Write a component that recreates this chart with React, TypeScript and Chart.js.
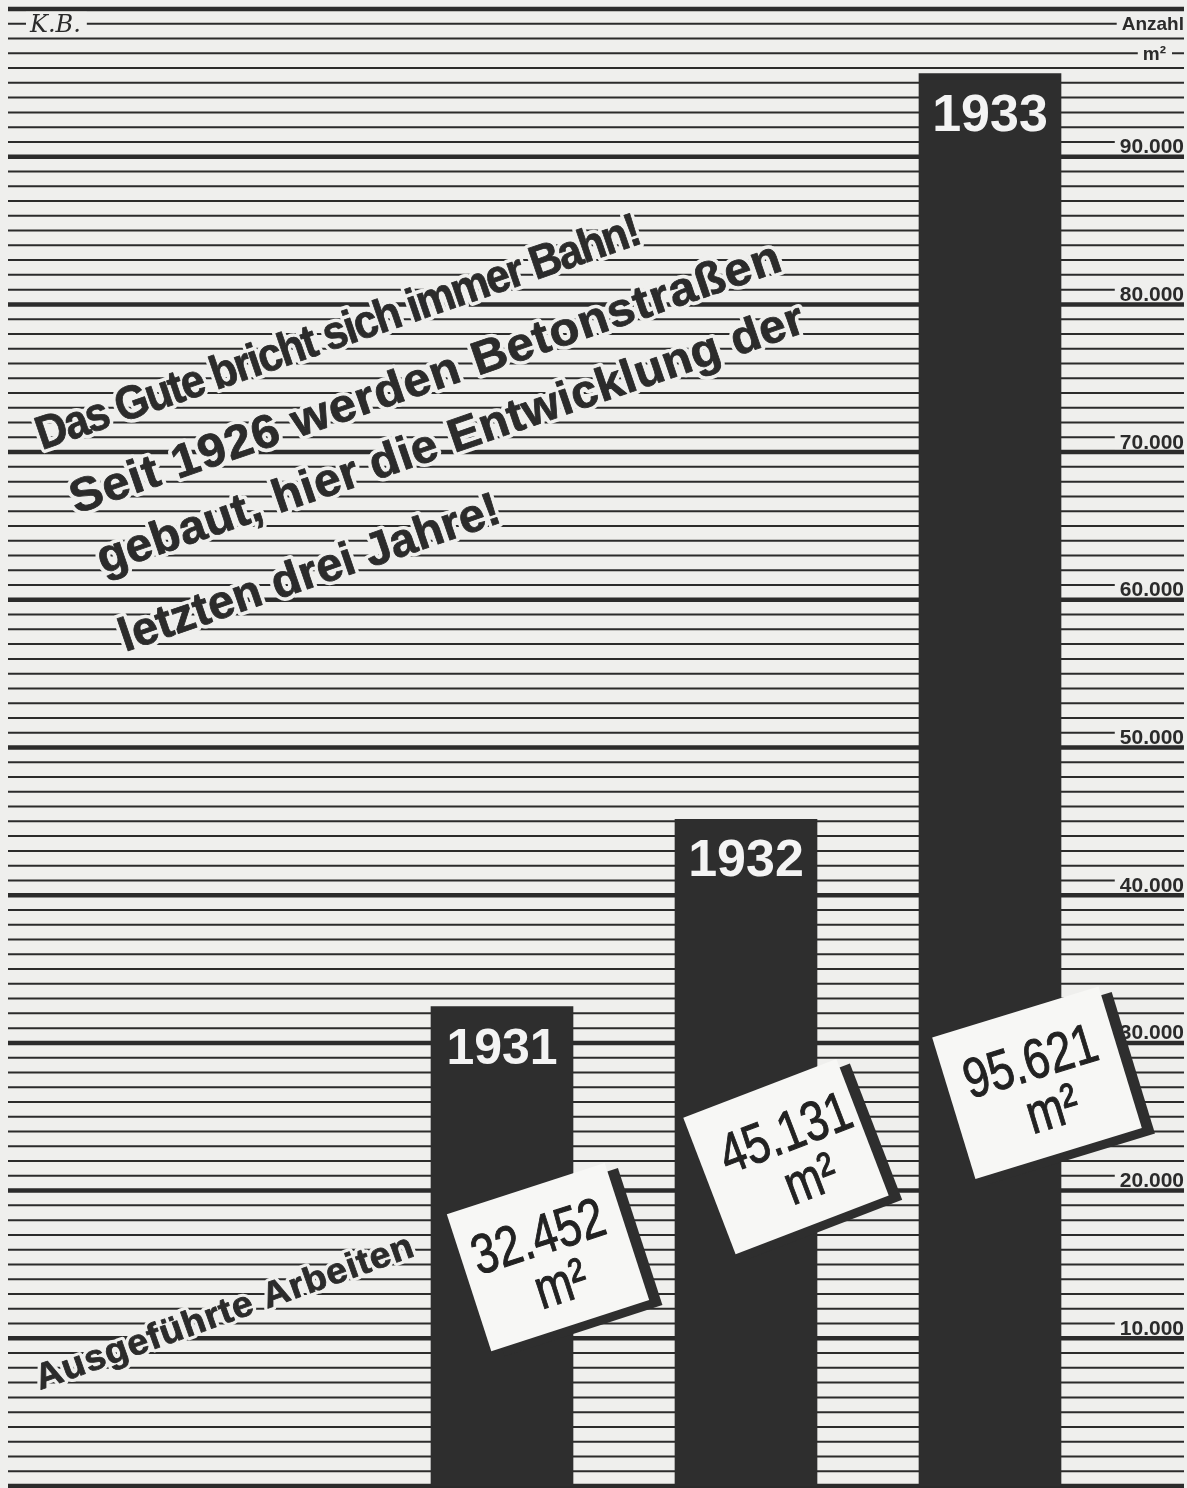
import React, { useEffect, useRef } from "react";
import { Chart, registerables } from "chart.js";

Chart.register(...registerables);

// ---------- data ----------
const YEARS: string[] = ["1931", "1932", "1933"];
const AREA_M2: number[] = [32452, 45131, 95621];
const Y_TICKS: number[] = [10000, 20000, 30000, 40000, 50000, 60000, 70000, 80000, 90000];
const Y_MAX = 100000;
const MINOR_STEP = 1000;
const MAJOR_STEP = 10000;
const AXIS_TITLE = "Anzahl";
const AXIS_UNIT = "m²";
const VALUE_UNIT = "m²";
const TITLE_LINES: string[] = [
  "Das Gute bricht sich immer Bahn!",
  "Seit 1926 werden Betonstraßen",
  "gebaut, hier die Entwicklung der",
  "letzten drei Jahre!",
];
const SIDE_LABEL = "Ausgeführte Arbeiten";
const MONOGRAM = "K.B.";

// ---------- styling / layout ----------
const W = 1187;
const H = 1488;
const BG = "#efefed";
const INK = "#2b2b2b";
const BAR = "#2e2e2e";
const BOX = "#f7f7f5";
const RULE_LEFT = 8;
const RULE_RIGHT = 1184;
const FONT = '"Liberation Sans", Arial, sans-serif';

const TITLE_LAYOUT = [
  { x: 42, y: 450, len: 635 },
  { x: 76, y: 514, len: 750 },
  { x: 103, y: 574, len: 745 },
  { x: 125, y: 652, len: 400 },
];
const TITLE_ANGLE = -19;
const TITLE_SIZE = 47;
const SIDE_LAYOUT = { x: 40, y: 1390, len: 400, angle: -19.7, size: 36 };

const YEAR_FONT_SIZES = [50, 52, 52];
const BOX_LAYOUT = [
  { dx: 46, atValue: 15500, angle: -18, w: 166, h: 144, tx: -3 },
  { dx: 40, atValue: 22300, angle: -21, w: 164, h: 146, tx: 8 },
  { dx: 47, atValue: 27300, angle: -17, w: 174, h: 148, tx: 0 },
];

function fmt(v: number): string {
  return String(Math.round(v)).replace(/\B(?=(\d{3})+(?!\d))/g, ".");
}

function drawFitted(
  ctx: CanvasRenderingContext2D,
  text: string,
  x: number,
  y: number,
  angleDeg: number,
  font: string,
  target: number,
  halo: number
) {
  ctx.save();
  ctx.translate(x, y);
  ctx.rotate((angleDeg * Math.PI) / 180);
  ctx.font = font;
  ctx.textAlign = "left";
  ctx.textBaseline = "alphabetic";
  const c = ctx as any;
  if ("letterSpacing" in c) c.letterSpacing = "0px";
  const w0 = ctx.measureText(text).width;
  let sx = Math.sqrt(target / w0);
  sx = Math.max(0.86, Math.min(1.12, sx));
  if ("letterSpacing" in c) {
    const ls = (target / sx - w0) / Math.max(1, text.length);
    c.letterSpacing = ls.toFixed(2) + "px";
  } else {
    sx = target / w0;
  }
  ctx.scale(sx, 1);
  ctx.lineJoin = "round";
  ctx.strokeStyle = BG;
  ctx.lineWidth = halo;
  ctx.strokeText(text, 0, 0);
  ctx.fillStyle = INK;
  ctx.fillText(text, 0, 0);
  ctx.strokeStyle = INK;
  ctx.lineWidth = 0.8;
  ctx.strokeText(text, 0, 0);
  ctx.restore();
}

const paperPlugin = {
  id: "paper",
  beforeDraw(chart: any) {
    const ctx: CanvasRenderingContext2D = chart.ctx;
    ctx.save();
    ctx.fillStyle = BG;
    ctx.fillRect(0, 0, chart.width, chart.height);
    ctx.restore();
  },
  beforeDatasetsDraw(chart: any) {
    const ctx: CanvasRenderingContext2D = chart.ctx;
    const y = chart.scales.y;
    ctx.save();
    // ruled lines
    ctx.strokeStyle = INK;
    for (let v = 0; v <= Y_MAX; v += MINOR_STEP) {
      const py = y.getPixelForValue(v);
      ctx.lineWidth = v % MAJOR_STEP === 0 ? 4.5 : 2;
      ctx.beginPath();
      ctx.moveTo(RULE_LEFT, py);
      ctx.lineTo(RULE_RIGHT, py);
      ctx.stroke();
    }
    // tick labels
    ctx.font = `bold 21px ${FONT}`;
    ctx.textAlign = "right";
    ctx.textBaseline = "alphabetic";
    for (const t of Y_TICKS) {
      const py = y.getPixelForValue(t);
      const s = fmt(t);
      const tw = ctx.measureText(s).width;
      ctx.fillStyle = BG;
      ctx.fillRect(RULE_RIGHT - tw - 5, py - 21, tw + 8, 18);
      ctx.fillStyle = INK;
      ctx.fillText(s, RULE_RIGHT, py - 3.5);
    }
    // axis title + unit
    ctx.font = `bold 19px ${FONT}`;
    ctx.textBaseline = "middle";
    const pyA = y.getPixelForValue(Y_MAX - MINOR_STEP);
    const aw = ctx.measureText(AXIS_TITLE).width;
    ctx.fillStyle = BG;
    ctx.fillRect(RULE_RIGHT - aw - 5, pyA - 9, aw + 8, 18);
    ctx.fillStyle = INK;
    ctx.fillText(AXIS_TITLE, RULE_RIGHT, pyA + 1);
    const pyU = y.getPixelForValue(Y_MAX - 3 * MINOR_STEP);
    const uw = ctx.measureText(AXIS_UNIT).width;
    const uRight = RULE_RIGHT - 18;
    ctx.fillStyle = BG;
    ctx.fillRect(uRight - uw - 5, pyU - 9, uw + 11, 18);
    ctx.fillStyle = INK;
    ctx.fillText(AXIS_UNIT, uRight, pyU + 1);
    // monogram
    ctx.font = `italic 24px "DejaVu Serif", serif`;
    ctx.textAlign = "left";
    const mw = ctx.measureText(MONOGRAM).width;
    ctx.fillStyle = BG;
    ctx.fillRect(26, pyA - 12, mw + 10, 24);
    ctx.fillStyle = INK;
    ctx.fillText(MONOGRAM, 30, pyA + 2);
    ctx.restore();

    // title
    TITLE_LINES.forEach((line, i) => {
      const L = TITLE_LAYOUT[i];
      drawFitted(ctx, line, L.x, L.y, TITLE_ANGLE, `bold ${TITLE_SIZE}px ${FONT}`, L.len, 8);
    });
    drawFitted(
      ctx,
      SIDE_LABEL,
      SIDE_LAYOUT.x,
      SIDE_LAYOUT.y,
      SIDE_LAYOUT.angle,
      `bold ${SIDE_LAYOUT.size}px ${FONT}`,
      SIDE_LAYOUT.len,
      7
    );
  },
  afterDatasetsDraw(chart: any) {
    const ctx: CanvasRenderingContext2D = chart.ctx;
    const y = chart.scales.y;
    const meta = chart.getDatasetMeta(0);
    ctx.save();
    // year labels inside bars
    meta.data.forEach((bar: any, i: number) => {
      ctx.font = `bold ${YEAR_FONT_SIZES[i]}px ${FONT}`;
      ctx.textAlign = "center";
      ctx.textBaseline = "alphabetic";
      ctx.fillStyle = "#f3f3f3";
      ctx.fillText(YEARS[i], bar.x, bar.y + 57);
    });
    // value boxes
    meta.data.forEach((bar: any, i: number) => {
      const B = BOX_LAYOUT[i];
      const cx = bar.x + B.dx;
      const cy = y.getPixelForValue(B.atValue);
      ctx.save();
      ctx.translate(cx, cy);
      ctx.rotate((B.angle * Math.PI) / 180);
      ctx.fillStyle = BAR;
      ctx.fillRect(-B.w / 2 + 11, -B.h / 2 + 9, B.w, B.h);
      ctx.fillStyle = BOX;
      ctx.fillRect(-B.w / 2, -B.h / 2, B.w, B.h);
      ctx.fillStyle = "#222";
      ctx.strokeStyle = "#222";
      ctx.lineWidth = 1;
      ctx.textAlign = "center";
      ctx.textBaseline = "alphabetic";
      ctx.font = `56px ${FONT}`;
      ctx.save();
      ctx.scale(0.8, 1);
      const num = fmt(AREA_M2[i]);
      ctx.fillText(num, B.tx / 0.8, -4);
      ctx.strokeText(num, B.tx / 0.8, -4);
      ctx.fillText(VALUE_UNIT, (B.tx + 7) / 0.8, 48);
      ctx.strokeText(VALUE_UNIT, (B.tx + 7) / 0.8, 48);
      ctx.restore();
      ctx.restore();
    });
    ctx.restore();
  },
};

export default function App() {
  const ref = useRef<HTMLCanvasElement | null>(null);
  useEffect(() => {
    if (!ref.current) return;
    const chart = new Chart(ref.current, {
      type: "bar",
      data: {
        labels: YEARS,
        datasets: [
          {
            data: AREA_M2,
            backgroundColor: BAR,
            borderWidth: 0,
            barThickness: 142,
          },
        ],
      },
      options: {
        animation: false,
        responsive: false,
        devicePixelRatio: 1,
        layout: { padding: { left: 380, right: 75, top: 9, bottom: 2 } },
        plugins: {
          legend: { display: false },
          tooltip: { enabled: false },
          title: { display: false },
        },
        scales: {
          x: { type: "category", display: false, offset: true },
          y: { type: "linear", display: false, min: 0, max: Y_MAX },
        },
      },
      plugins: [paperPlugin],
    });
    return () => chart.destroy();
  }, []);
  return (
    <div style={{ position: "absolute", left: 0, top: 0, width: W, height: H, overflow: "hidden" }}>
      <canvas ref={ref} width={W} height={H} style={{ display: "block", width: W, height: H }} />
    </div>
  );
}
